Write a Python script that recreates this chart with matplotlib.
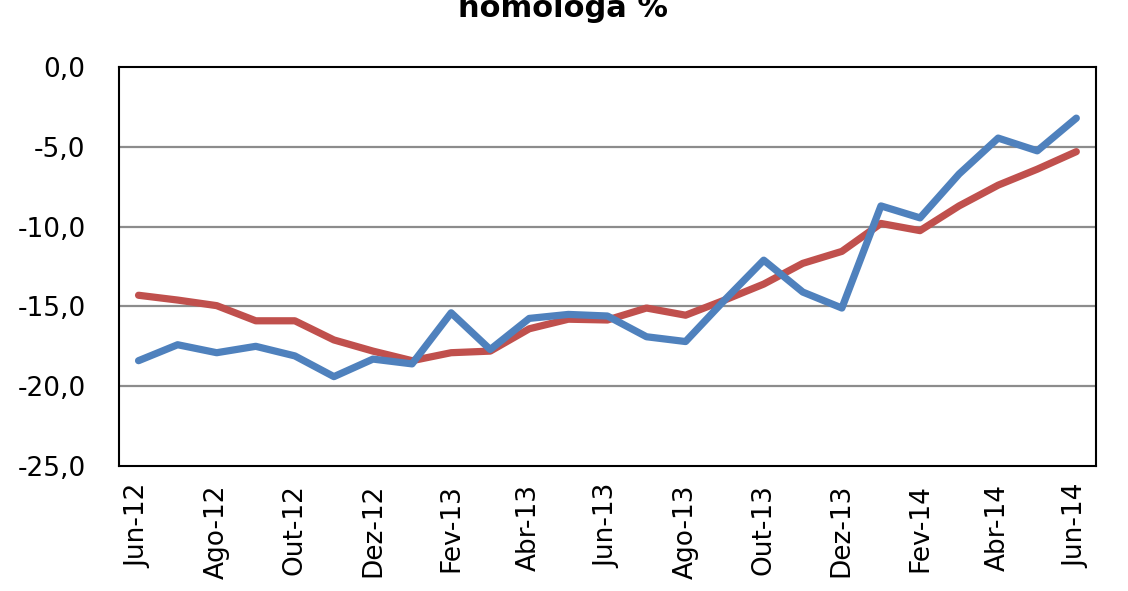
import numpy as np
import matplotlib
matplotlib.use("Agg")
import matplotlib.pyplot as plt

meses = ["Jun-12", "Jul-12", "Ago-12", "Set-12", "Out-12", "Nov-12", "Dez-12",
         "Jan-13", "Fev-13", "Mar-13", "Abr-13", "Mai-13", "Jun-13", "Jul-13",
         "Ago-13", "Set-13", "Out-13", "Nov-13", "Dez-13", "Jan-14", "Fev-14",
         "Mar-14", "Abr-14", "Mai-14", "Jun-14"]

serie_azul = [-18.4, -17.4, -17.9, -17.5, -18.1, -19.4, -18.3, -18.6, -15.4,
              -17.7, -15.75, -15.5, -15.6, -16.9, -17.2, -14.6, -12.1, -14.1,
              -15.1, -8.7, -9.45, -6.7, -4.45, -5.25, -3.2]

serie_vermelha = [-14.3, -14.6, -14.95, -15.9, -15.9, -17.1, -17.8, -18.4, -17.9,
                  -17.8, -16.4, -15.8, -15.85, -15.1, -15.55, -14.6, -13.6, -12.3,
                  -11.55, -9.8, -10.25, -8.7, -7.4, -6.4, -5.3]

yticks = [0, -5, -10, -15, -20, -25]

fig = plt.figure(figsize=(11.28, 5.91), dpi=100)
ax = fig.add_axes([0.1055, 0.2115, 0.866, 0.675])

x = np.arange(len(meses))
ax.plot(x, serie_vermelha, color="#C0504D", linewidth=5.2, solid_capstyle="round", zorder=3)
ax.plot(x, serie_azul, color="#4F81BD", linewidth=5.2, solid_capstyle="round", zorder=4)

ax.set_xlim(-0.5, len(meses) - 0.5)
ax.set_ylim(-25, 0)
ax.set_yticks(yticks)
ax.set_yticklabels([f"{v:.1f}".replace(".", ",") for v in yticks], fontsize=19)
ax.set_xticks(x[::2])
ax.set_xticklabels(meses[::2], rotation=90, fontsize=19)
ax.tick_params(axis="y", length=0, pad=24)
ax.tick_params(axis="x", length=0, pad=13)

for v in [-5, -10, -15, -20]:
    ax.axhline(v, color="#8c8c8c", linewidth=1.6, zorder=1)

for s in ax.spines.values():
    s.set_color("black")
    s.set_linewidth(1.5)

# title is partly cut at the top, as in the source image
fig.text(0.499, 1 - 17 / 591, "homóloga %", ha="center", va="baseline",
         fontsize=22, fontweight="bold")

fig.savefig("out.png", dpi=100)
